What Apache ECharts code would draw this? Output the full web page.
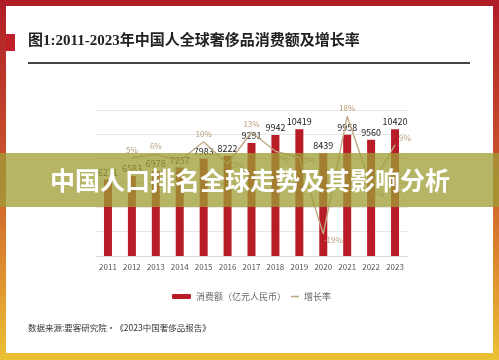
<!DOCTYPE html>
<html><head><meta charset="utf-8">
<script src="https://cdn.jsdelivr.net/npm/echarts@6/dist/echarts.min.js"></script>
<style>html,body{margin:0;padding:0;background:#fff}#c{width:499px;height:360px}</style>
</head><body><div id="c"></div>
<script>
const years = ['2011','2012','2013','2014','2015','2016','2017','2018','2019','2020','2021','2022','2023'];
const spend = [6271,6583,6978,7257,7983,8222,9291,9942,10419,8439,9958,9560,10420];
const growth = [null,5,6,4,10,3,13,7,5,-19,18,-4,9];
const spendTicks = [0,2000,4000,6000,8000,10000,12000];
const titleText = '图1:2011-2023年中国人全球奢侈品消费额及增长率';
const bannerText = '中国人口排名全球走势及其影响分析';
const sourceText = '数据来源:要客研究院·《2023中国奢侈品报告》';
const seriesNames = ['消费额（亿元人民币）','增长率'];

const labelPlace = {
  '2018': {position:'bottom', offset:[8,0]},
  '2019': {position:'right', offset:[0,2]},
  '2016': {position:'right', offset:[0,1]},
  '2020': {position:'bottom', offset:[10,-2]},
  '2023': {position:'right', offset:[0,-7]},
  '2014': {position:'bottom', offset:[0,0]},
  '2022': {position:'bottom', offset:[6,0]}
};
const growthData = growth.map((v,i)=>{
  const p = labelPlace[years[i]];
  return p ? {value:v, label:{position:p.position, offset:p.offset}} : v;
});
const lineColor = '#bfa883';

const chart = echarts.init(document.getElementById('c'), null, {renderer:'canvas'});
chart.setOption({
  animation:false,
  textStyle:{fontFamily:'"Noto Sans CJK SC", "Noto Sans", sans-serif'},
  graphic:[
    {type:'rect', z:-10, shape:{x:0,y:0,width:499,height:360},
     style:{fill:new echarts.graphic.LinearGradient(0,0,0,1,[
       {offset:0,color:'#b01d28'},{offset:0.45,color:'#c9522c'},{offset:0.75,color:'#de8e2e'},{offset:1,color:'#ebc234'}])}},
    {type:'rect', z:-9, shape:{x:6,y:6,width:487,height:347}, style:{fill:'#ffffff'}},
    {type:'rect', z:-8, shape:{x:6,y:34,width:9,height:17}, style:{fill:'#c01f2a'}},
    {type:'text', z:5, left:28, top:34, style:{text:titleText, fill:'#222',
      font:'bold 15px "Liberation Serif", "Noto Sans CJK SC", serif'}},
    {type:'rect', z:5, shape:{x:28,y:62,width:442,height:2}, style:{fill:'#444'}},
    {type:'text', z:5, left:28, top:324, style:{text:sourceText, fill:'#333',
      font:'8.5px "Noto Sans CJK SC", sans-serif'}},
    {type:'rect', z:100, shape:{x:0,y:153,width:499,height:54}, style:{fill:'rgba(158,158,52,0.76)'}},
    {type:'text', z:101, x:250, y:180, style:{text:bannerText, fill:'#ffffff', align:'center', verticalAlign:'middle',
      font:'bold 25px "Noto Sans CJK SC", sans-serif'}}
  ],
  legend:[
    {data:[seriesNames[0]], left:167, top:287, itemWidth:19, itemHeight:5,
     textStyle:{color:'#666', fontSize:9}},
    {data:[{name:seriesNames[1], icon:'rect', itemStyle:{color:lineColor}}], left:286, top:287, itemWidth:8, itemHeight:1.5,
     textStyle:{color:'#666', fontSize:9}}
  ],
  grid:{left:96, top:110, width:311, height:146, containLabel:false},
  xAxis:{type:'category', data:years, axisTick:{show:false},
    axisLine:{lineStyle:{color:'#d8d8d8'}},
    axisLabel:{color:'#555', fontSize:8, margin:7}},
  yAxis:[
    {type:'value', min:spendTicks[0], max:spendTicks[spendTicks.length-1], interval:2000,
     axisLabel:{show:false}, axisLine:{show:false}, axisTick:{show:false},
     splitLine:{lineStyle:{color:'#e6e6e6'}}},
    {type:'value', min:-26, max:20, show:false, splitLine:{show:false}}
  ],
  series:[
    {name:seriesNames[0], type:'bar', data:spend, barWidth:8, itemStyle:{color:'#b81c26'},
     label:{show:true, position:'top', distance:3, color:'#222', fontSize:9}},
    {name:seriesNames[1], type:'line', yAxisIndex:1, data:growthData, symbol:'circle', symbolSize:0.1,
     showSymbol:true, connectNulls:false,
     lineStyle:{color:lineColor, width:1.4}, itemStyle:{color:lineColor},
     label:{show:true, position:'top', distance:4, color:'#b9a078', fontSize:8,
       formatter:p=>p.value+'%'}}
  ]
});
</script></body></html>
